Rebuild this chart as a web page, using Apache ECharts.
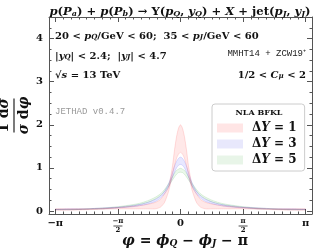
<!DOCTYPE html>
<html><head><meta charset="utf-8">
<script src="https://cdn.jsdelivr.net/npm/echarts@6/dist/echarts.min.js"></script>
<style>html,body{margin:0;padding:0;background:#fff}#c{width:318px;height:251px}</style>
</head><body><div id="c"></div>
<script>
// ---- data ----
const phi = [-3.14,-2.75,-2.36,-1.96,-1.57,-1.18,-0.98,-0.79,-0.63,-0.5,-0.4,-0.3,-0.25,-0.2,-0.15,-0.1,-0.05,0,0.05,0.1,0.15,0.2,0.25,0.3,0.4,0.5,0.63,0.79,0.98,1.18,1.57,1.96,2.36,2.75,3.14];
const red_hi = [0.05,0.05,0.05,0.06,0.08,0.11,0.13,0.16,0.20,0.27,0.40,0.55,0.78,1.05,1.42,1.72,1.92,2.00,1.92,1.72,1.42,1.05,0.78,0.55,0.40,0.27,0.20,0.16,0.13,0.11,0.08,0.06,0.05,0.05,0.05];
const red_lo = [0.02,0.02,0.03,0.04,0.05,0.05,0.05,0.05,0.05,0.09,0.20,0.45,0.64,0.85,1.05,1.22,1.32,1.36,1.32,1.22,1.05,0.85,0.64,0.45,0.20,0.09,0.05,0.05,0.05,0.05,0.05,0.04,0.03,0.02,0.02];
const blue_hi = [0.04,0.05,0.05,0.07,0.09,0.13,0.16,0.21,0.27,0.35,0.46,0.63,0.76,0.90,1.04,1.15,1.22,1.25,1.22,1.15,1.04,0.90,0.76,0.63,0.46,0.35,0.27,0.21,0.16,0.13,0.09,0.07,0.05,0.05,0.04];
const blue_lo = [0.03,0.03,0.04,0.05,0.07,0.10,0.13,0.17,0.22,0.30,0.40,0.55,0.66,0.78,0.90,1.00,1.06,1.08,1.06,1.00,0.90,0.78,0.66,0.55,0.40,0.30,0.22,0.17,0.13,0.10,0.07,0.05,0.04,0.03,0.03];
const green_hi = [0.04,0.04,0.05,0.07,0.10,0.15,0.19,0.25,0.32,0.40,0.50,0.63,0.72,0.80,0.88,0.94,0.97,0.99,0.97,0.94,0.88,0.80,0.72,0.63,0.50,0.40,0.32,0.25,0.19,0.15,0.10,0.07,0.05,0.04,0.04];
const green_lo = [0.03,0.03,0.04,0.05,0.08,0.12,0.16,0.21,0.28,0.36,0.45,0.57,0.65,0.72,0.79,0.85,0.89,0.90,0.89,0.85,0.79,0.72,0.65,0.57,0.45,0.36,0.28,0.21,0.16,0.12,0.08,0.05,0.04,0.03,0.03];
const bandNames = ['ΔY = 1','ΔY = 3','ΔY = 5'];
const PI = Math.PI;
const xTicks = [-PI,-PI/2,0,PI/2,PI];
const xTickLabels = ['{n|−π}','{f|−π}\n{b| }\n{f|2}','{n|0}','{f|π}\n{b| }\n{f|2}','{n|π}'];
const yTicks = [0,1,2,3,4];
const yTickLabels = ['0','1','2','3','4'];

// ---- build ----
const F = 'DejaVu Serif', M = 'Liberation Mono';
const xMinor = []; for (let k=-16;k<=16;k++) xMinor.push(k*PI/16);
const yMinor = []; for (let k=0;k<=18;k++) yMinor.push(k*0.25);
const frame = {color:'#555', width:1};

function band(name, lo, hi, fill, edge){
  return {
    name, type:'custom', silent:true, z:2,
    itemStyle:{color:fill},
    data: phi.map((p,i)=>[p, lo[i], hi[i]]),
    renderItem:(params, api)=>{
      if (params.dataIndexInside !== 0) return null;
      const n = params.dataInsideLength;
      const up = [], dn = [];
      for (let k=0;k<n;k++){
        const x = api.value(0,k);
        up.push(api.coord([x, api.value(2,k)]));
        dn.push(api.coord([x, api.value(1,k)]));
      }
      const poly = up.concat(dn.slice().reverse());
      return {type:'group', children:[
        {type:'polygon', shape:{points:poly, smooth:0.25}, style:{fill, stroke:null}},
        {type:'polyline', shape:{points:up, smooth:0.25}, style:{fill:null, stroke:edge, lineWidth:0.8}},
        {type:'polyline', shape:{points:dn, smooth:0.25}, style:{fill:null, stroke:edge, lineWidth:0.8}}
      ]};
    }
  };
}
const series = [
  band(bandNames[2], green_lo, green_hi, 'rgba(0,160,0,0.08)', 'rgba(0,150,0,0.16)'),
  band(bandNames[1], blue_lo, blue_hi, 'rgba(0,0,255,0.09)', 'rgba(0,0,255,0.16)'),
  band(bandNames[0], red_lo, red_hi, 'rgba(255,0,0,0.09)', 'rgba(255,0,0,0.16)')
];

function mr(size, sub){
  return {
    r:{fontFamily:F, fontWeight:'bold', fontSize:size, lineHeight:size+4, verticalAlign:'bottom', fill:'#111', color:'#111'},
    i:{fontFamily:F, fontWeight:'bold', fontStyle:'italic', fontSize:size, lineHeight:size+4, verticalAlign:'bottom', fill:'#111', color:'#111'},
    s:{fontFamily:F, fontWeight:'bold', fontStyle:'italic', fontSize:sub, lineHeight:sub-1, verticalAlign:'bottom', fill:'#111', color:'#111'}
  };
}
function minorAxis(pos, min, max, vals){
  return {type:'value', min, max, position:pos,
    axisLine:{show:false, onZero:false},
    axisTick:{show:true, inside:true, length:2.5, customValues:vals, lineStyle:frame},
    axisLabel:{show:false}, splitLine:{show:false}};
}
function mirrorAxis(pos, min, max, vals){
  return {type:'value', min, max, position:pos,
    axisLine:{show:true, onZero:false, lineStyle:frame},
    axisTick:{show:true, inside:true, length:5, customValues:vals, lineStyle:frame},
    axisLabel:{show:false}, splitLine:{show:false}};
}

const chart = echarts.init(document.getElementById('c'), null, {renderer:'canvas'});
chart.setOption({
  animation:false,
  grid:{left:49, right:6, top:17, bottom:37, containLabel:false, outerBoundsMode:'none'},
  xAxis:[
    {type:'value', min:-3.3, max:3.3, position:'bottom',
     axisLine:{show:true, onZero:false, lineStyle:frame},
     axisTick:{show:true, inside:true, length:5, customValues:xTicks, lineStyle:frame},
     axisLabel:{show:true, customValues:xTicks, margin:4, formatter:(v)=>{
        let k = xTicks.findIndex(t=>Math.abs(t-v)<1e-6); return k>=0?xTickLabels[k]:'';},
       rich:{
         n:{fontFamily:F, fontWeight:'bold', fontSize:10, color:'#111'},
         f:{fontFamily:F, fontWeight:'bold', fontSize:7, lineHeight:7, color:'#111'},
         b:{width:9, height:0.8, lineHeight:2, backgroundColor:'#222'}
       }},
     splitLine:{show:false},
     name:'{i|φ}{r| = }{i|ϕ}{s|Q}{r| − }{i|ϕ}{s|J}{r| − π}', nameLocation:'middle', nameGap:16,
     nameMoveOverlap:false,
     nameTextStyle:{padding:[0,0,0,9], rich:mr(14,9)}
    },
    minorAxis('bottom', -3.3, 3.3, xMinor),
    mirrorAxis('top', -3.3, 3.3, xTicks),
    minorAxis('top', -3.3, 3.3, xMinor)
  ],
  yAxis:[
    {type:'value', min:-0.07, max:4.5, position:'left',
     axisLine:{show:true, onZero:false, lineStyle:frame},
     axisTick:{show:true, inside:true, length:5, customValues:yTicks, lineStyle:frame},
     axisLabel:{show:true, customValues:yTicks, margin:6, formatter:(v)=>{
        let k = yTicks.findIndex(t=>Math.abs(t-v)<1e-6); return k>=0?yTickLabels[k]:'';},
       fontFamily:F, fontWeight:'bold', fontSize:10, color:'#111'},
     splitLine:{show:false},
     name:'{a|1 d}{g|σ}\n{bar| }\n{g|σ}{a| d}{g|φ}', nameLocation:'middle', nameRotate:90, nameGap:11,
     nameMoveOverlap:false,
     nameTextStyle:{padding:[0,0,6,0], rich:{
       a:{fontFamily:F, fontWeight:'bold', fontSize:14, lineHeight:16, color:'#111'},
       g:{fontFamily:F, fontWeight:'bold', fontStyle:'italic', fontSize:14, lineHeight:16, color:'#111'},
       bar:{width:34, height:1.2, lineHeight:4, backgroundColor:'#222'}
     }}
    },
    minorAxis('left', -0.07, 4.5, yMinor),
    mirrorAxis('right', -0.07, 4.5, yTicks),
    minorAxis('right', -0.07, 4.5, yMinor)
  ],
  legend:{
    orient:'vertical', left:212, top:104, padding:[18,8,5,5], itemGap:4,
    itemWidth:26, itemHeight:9, icon:'rect', selectedMode:false,
    backgroundColor:'rgba(255,255,255,0.92)', borderColor:'#ccc', borderWidth:1, borderRadius:3,
    data:[
      {name:bandNames[0], itemStyle:{color:'#ffe5e5', borderWidth:0}},
      {name:bandNames[1], itemStyle:{color:'#e8e8fc', borderWidth:0}},
      {name:bandNames[2], itemStyle:{color:'#e8f5e8', borderWidth:0}}
    ],
    formatter:(n)=>'{d|Δ}{i|Y}{n| = '+n.slice(-1)+'}',
    textStyle:{rich:{
      d:{fontFamily:F, fontWeight:'bold', fontSize:12, lineHeight:14, color:'#111', padding:[0,0,0,4]},
      i:{fontFamily:F, fontWeight:'bold', fontStyle:'italic', fontSize:12, lineHeight:14, color:'#111'},
      n:{fontFamily:F, fontWeight:'bold', fontSize:12, lineHeight:14, color:'#111'}
    }}
  },
  graphic:[
    {type:'text', x:180, y:10, z:100, style:{
      text:'{i|p}{r|(}{i|P}{s|a}{r|) + }{i|p}{r|(}{i|P}{s|b}{r|) → Υ(}{i|p}{s|Q}{r|, }{i|y}{s|Q}{r|) + }{i|X}{r| + jet(}{i|p}{s|J}{r|, }{i|y}{s|J}{r|)}',
      align:'center', verticalAlign:'middle', rich:mr(11.6,8)}},
    {type:'text', x:55, y:34, z:100, style:{
      text:'{r|20 < }{i|p}{s|Q}{r|/GeV < 60;  35 < }{i|p}{s|J}{r|/GeV < 60}',
      align:'left', verticalAlign:'middle', rich:mr(10,7)}},
    {type:'text', x:55, y:54, z:100, style:{
      text:'{r||}{i|y}{s|Q}{r|| < 2.4;  |}{i|y}{s|J}{r|| < 4.7}',
      align:'left', verticalAlign:'middle', rich:mr(10,7)}},
    {type:'text', x:55, y:73, z:100, style:{
      text:'{r|√}{i|s}{r| = 13 TeV}',
      align:'left', verticalAlign:'middle', rich:mr(10,7)}},
    {type:'text', x:306, y:54, z:100, style:{
      text:'MMHT14 + ZCW19⁺', align:'right', verticalAlign:'middle',
      fontFamily:M, fontSize:9, fill:'#222'}},
    {type:'text', x:306, y:73, z:100, style:{
      text:'{r|1/2 < }{i|C}{s|μ}{r| < 2}',
      align:'right', verticalAlign:'middle', rich:mr(10,7)}},
    {type:'text', x:55, y:112, z:100, style:{
      text:'JETHAD v0.4.7', align:'left', verticalAlign:'middle',
      fontFamily:M, fontSize:9, fill:'#999'}},
    {type:'text', x:259, y:113, z:100, style:{
      text:'NLA BFKL', align:'center', verticalAlign:'middle',
      fontFamily:F, fontWeight:'bold', fontSize:8, fill:'#111'}}
  ],
  series
});
</script></body></html>
